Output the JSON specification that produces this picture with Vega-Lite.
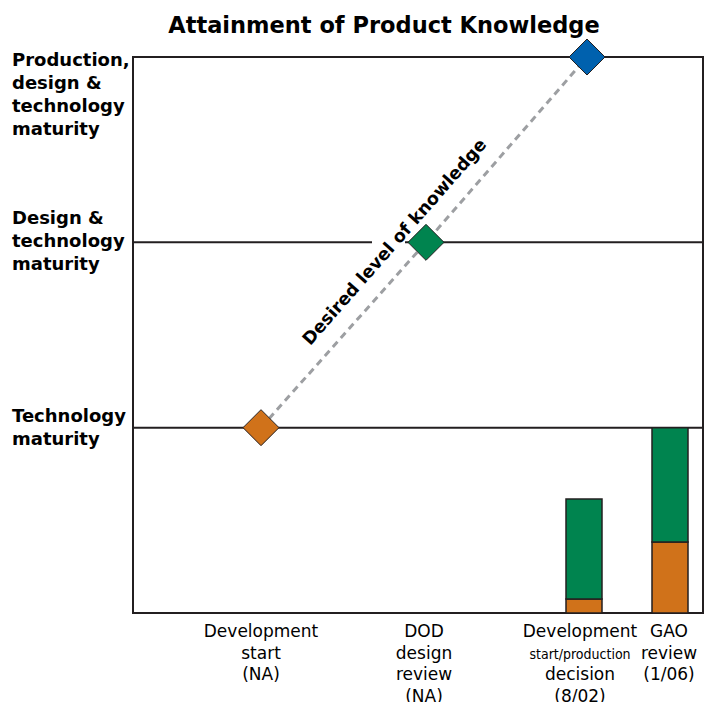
{
  "$schema": "https://vega.github.io/schema/vega-lite/v6.json",
  "autosize": "none",
  "width": 570,
  "height": 556,
  "padding": {"left": 133, "top": 57, "right": 2, "bottom": 89},
  "background": "white",
  "config": {
    "view": {"stroke": "#231f20", "strokeWidth": 2},
    "axis": {"disable": true},
    "scale": {"continuousPadding": 0},
    "text": {"font": "DejaVu Sans", "color": "#000000"}
  },
  "datasets": {
    "levels": [
      {"level": 1, "from": 0, "to": 570},
      {"level": 2, "from": 0, "to": 239},
      {"level": 2, "from": 272, "to": 570}
    ],
    "milestones": [
      {"position": 128, "level": 1, "stage": "Technology"},
      {"position": 293, "level": 2, "stage": "Design"},
      {"position": 454, "level": 3, "stage": "Production"}
    ],
    "bars": [
      {"event": 451, "stage": "Technology", "lo": 0, "hi": 0.075},
      {"event": 451, "stage": "Design", "lo": 0.075, "hi": 0.615},
      {"event": 537, "stage": "Technology", "lo": 0, "hi": 0.383},
      {"event": 537, "stage": "Design", "lo": 0.383, "hi": 1.0}
    ],
    "xlabels": [
      {"event": 128, "label": "Development\nstart\n(NA)"},
      {"event": 291, "label": "DOD\ndesign\nreview\n(NA)"},
      {"event": 447, "label": "Development"},
      {"event": 536, "label": "GAO\nreview\n(1/06)"}
    ],
    "xlabelSmall": [
      {"event": 447, "label": "start/production"}
    ],
    "xlabelLower": [
      {"event": 447, "label": "decision\n(8/02)"}
    ]
  },
  "layer": [
    {
      "data": {"name": "levels"},
      "mark": {"type": "rule", "color": "#231f20", "strokeWidth": 2},
      "encoding": {
        "x": {"field": "from", "type": "quantitative", "scale": {"domain": [0, 570], "nice": false, "zero": false, "padding": 0}},
        "x2": {"field": "to"},
        "y": {"field": "level", "type": "quantitative", "scale": {"domain": [0, 3], "nice": false, "zero": true, "padding": 0}}
      }
    },
    {
      "data": {"name": "milestones"},
      "mark": {"type": "line", "color": "#9d9fa2", "strokeWidth": 3, "strokeDash": [7, 5]},
      "encoding": {
        "x": {"field": "position", "type": "quantitative"},
        "y": {"field": "level", "type": "quantitative"},
        "order": {"field": "position"}
      }
    },
    {
      "data": {"name": "bars"},
      "mark": {"type": "bar", "width": 36, "stroke": "#231f20", "strokeWidth": 1.5},
      "encoding": {
        "x": {"field": "event", "type": "quantitative"},
        "y": {"field": "lo", "type": "quantitative"},
        "y2": {"field": "hi"},
        "color": {
          "field": "stage", "type": "nominal", "legend": null,
          "scale": {"domain": ["Technology", "Design", "Production"], "range": ["#D0721A", "#00844F", "#0061AE"]}
        }
      }
    },
    {
      "data": {"name": "milestones"},
      "mark": {"type": "point", "shape": "diamond", "size": 1296, "filled": true, "opacity": 1, "stroke": "#231f20", "strokeWidth": 1},
      "encoding": {
        "x": {"field": "position", "type": "quantitative"},
        "y": {"field": "level", "type": "quantitative"},
        "color": {"field": "stage", "type": "nominal", "legend": null}
      }
    },
    {
      "data": {"values": [{"label": "Desired level of knowledge"}]},
      "mark": {"type": "text", "fontSize": 17.5, "fontWeight": "bold", "angle": -48.6, "align": "center", "baseline": "middle"},
      "encoding": {
        "x": {"datum": 262, "type": "quantitative"},
        "y": {"datum": 2, "type": "quantitative"},
        "text": {"field": "label"}
      }
    },
    {
      "data": {"values": [{"label": "Attainment of Product Knowledge"}]},
      "mark": {"type": "text", "fontSize": 22.5, "fontWeight": "bold", "align": "center", "baseline": "alphabetic", "dy": -24},
      "encoding": {
        "x": {"datum": 251, "type": "quantitative"},
        "y": {"datum": 3, "type": "quantitative"},
        "text": {"field": "label"}
      }
    },
    {
      "data": {"values": [{"level": 3, "label": "Production,\ndesign &\ntechnology\nmaturity"}]},
      "mark": {"type": "text", "fontSize": 18, "fontWeight": "bold", "align": "left", "baseline": "alphabetic", "dy": 9, "lineBreak": "\n", "lineHeight": 23},
      "encoding": {
        "x": {"datum": -121, "type": "quantitative"},
        "y": {"field": "level", "type": "quantitative"},
        "text": {"field": "label"}
      }
    },
    {
      "data": {"values": [{"level": 2, "label": "Design &\ntechnology\nmaturity"}]},
      "mark": {"type": "text", "fontSize": 18, "fontWeight": "bold", "align": "left", "baseline": "middle", "dy": -23, "lineBreak": "\n", "lineHeight": 23},
      "encoding": {
        "x": {"datum": -121, "type": "quantitative"},
        "y": {"field": "level", "type": "quantitative"},
        "text": {"field": "label"}
      }
    },
    {
      "data": {"values": [{"level": 1, "label": "Technology\nmaturity"}]},
      "mark": {"type": "text", "fontSize": 18, "fontWeight": "bold", "align": "left", "baseline": "middle", "dy": -11, "lineBreak": "\n", "lineHeight": 23},
      "encoding": {
        "x": {"datum": -121, "type": "quantitative"},
        "y": {"field": "level", "type": "quantitative"},
        "text": {"field": "label"}
      }
    },
    {
      "data": {"name": "xlabels"},
      "mark": {"type": "text", "fontSize": 17, "align": "center", "baseline": "alphabetic", "dy": 24, "lineBreak": "\n", "lineHeight": 21.5},
      "encoding": {
        "x": {"field": "event", "type": "quantitative"},
        "y": {"datum": 0, "type": "quantitative"},
        "text": {"field": "label"}
      }
    },
    {
      "data": {"name": "xlabelSmall"},
      "mark": {"type": "text", "fontSize": 14, "font": "DejaVu Sans Condensed, Liberation Sans Narrow, Liberation Sans", "align": "center", "baseline": "alphabetic", "dy": 45.5},
      "encoding": {
        "x": {"field": "event", "type": "quantitative"},
        "y": {"datum": 0, "type": "quantitative"},
        "text": {"field": "label"}
      }
    },
    {
      "data": {"name": "xlabelLower"},
      "mark": {"type": "text", "fontSize": 17, "align": "center", "baseline": "alphabetic", "dy": 67, "lineBreak": "\n", "lineHeight": 21.5},
      "encoding": {
        "x": {"field": "event", "type": "quantitative"},
        "y": {"datum": 0, "type": "quantitative"},
        "text": {"field": "label"}
      }
    }
  ]
}
